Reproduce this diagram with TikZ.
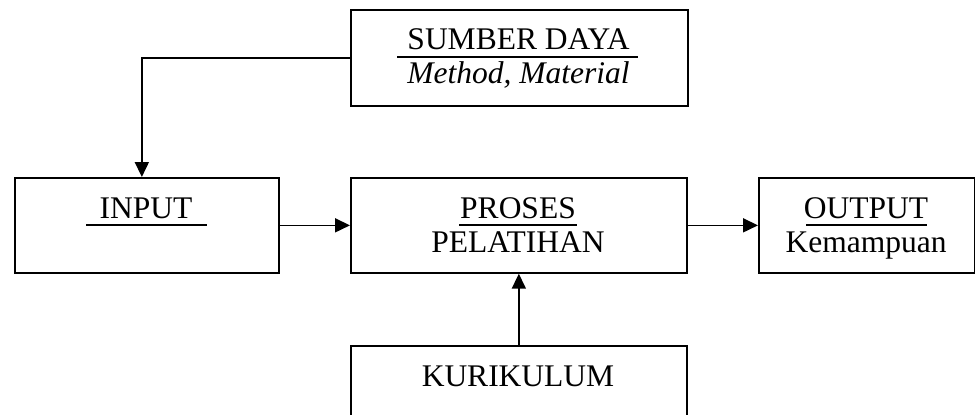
\documentclass[tikz,border=0pt]{standalone}
\usepackage{fontspec}
\setmainfont{Liberation Serif}
\usetikzlibrary{arrows.meta}
\begin{document}
\begin{tikzpicture}[x=1pt,y=-1pt,
  box/.style={draw,line width=1.7pt,anchor=north west,inner sep=0pt},
  lbl/.style={font=\fontsize{31.5}{34}\selectfont,anchor=base,inner sep=0pt},
  ul/.style={line width=1.6pt},
  arr/.style={line width=1.7pt,-{Triangle[length=15pt,width=14pt]}}]
\clip (0,0) rectangle (975,415);
% boxes
\node[box,minimum width=337pt,minimum height=96pt] (sd) at (350,9) {};
\node[box,minimum width=264pt,minimum height=95pt] (in) at (14,177) {};
\node[box,minimum width=336pt,minimum height=95pt] (pr) at (350,177) {};
\node[box,minimum width=216pt,minimum height=95pt] (out) at (758,177) {};
\node[box,minimum width=336pt,minimum height=110pt] (kur) at (350,345) {};
% labels
\node[lbl] (sdt) at (518.5,49) {SUMBER DAYA};
\draw[ul] (397,57) -- (638,57);
\node[lbl] (sdm) at (518.5,83) {\itshape Method, Material};
\node[lbl] (int) at (146,218) {INPUT};
\draw[ul] (86,225) -- (207,225);
\node[lbl] (prt) at (518,218) {PROSES};
\draw[ul] (459,225) -- (577,225);
\node[lbl] (prp) at (518,252) {PELATIHAN};
\node[lbl] (outt) at (866,218) {OUTPUT};
\draw[ul] (806,225) -- (927,225);
\node[lbl] (outk) at (866,252) {Kemampuan};
\node[lbl] (kurt) at (518,386) {KURIKULUM};
% connectors
\draw[arr] (sd.west) -| ([xshift=-5pt]in.north);
\draw[arr] (in.east) -- (pr.west);
\draw[arr] (pr.east) -- (out.west);
\draw[arr] (kur.north) -- (pr.south);
\end{tikzpicture}
\end{document}
